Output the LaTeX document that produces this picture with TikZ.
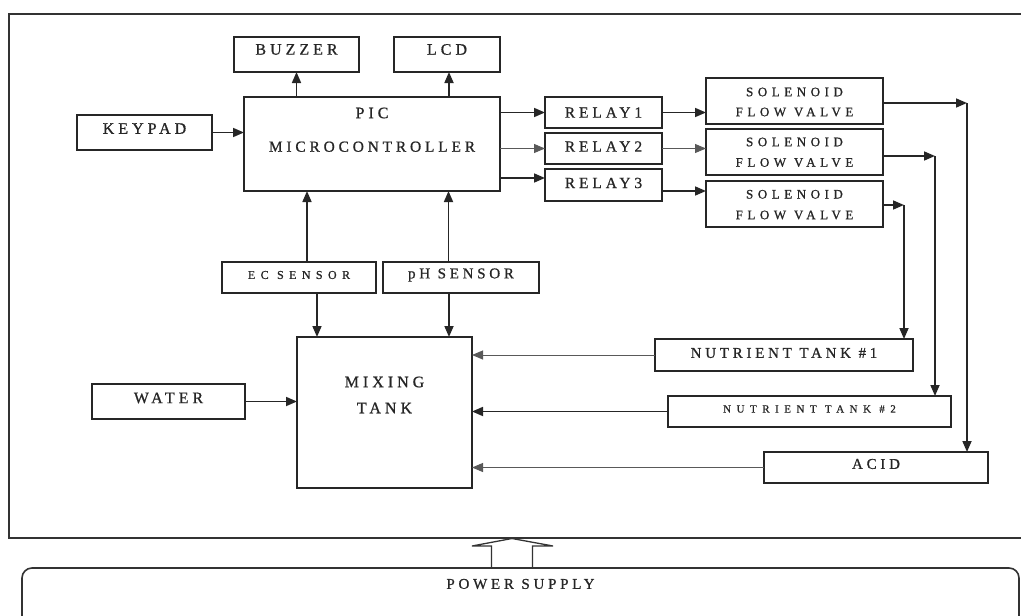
\documentclass[tikz,border=0pt]{standalone}
\usepackage{fontspec}
\usetikzlibrary{arrows.meta}
\setmainfont{Liberation Serif}
\newfontfamily\lsA[LetterSpace=25,FakeBold=0.8]{Liberation Serif}
\newfontfamily\lsB[LetterSpace=35,FakeBold=0.8]{Liberation Serif}
\newfontfamily\lsC[LetterSpace=45,FakeBold=0.8]{Liberation Serif}
\newfontfamily\lsD[LetterSpace=50,FakeBold=0.8]{Liberation Serif}
\newcommand{\fsz}[1]{\fontsize{#1}{#1}\selectfont}
\begin{document}
\begin{tikzpicture}[x=1pt,y=-1pt,
  box/.style={draw=black!85, line width=1.8pt, inner sep=0pt, outer sep=0pt, fill=white},
  txt/.style={inner sep=0pt, text=black!85},
  tA/.style={txt, font=\lsA\fsz{16}},
  tM/.style={txt, font=\lsA\fsz{15.4}},
  tR/.style={txt, font=\lsA\fsz{15.5}},
  tS/.style={txt, font=\lsB\fsz{13}},
  tE/.style={txt, font=\lsC\fsz{12}},
  tP/.style={txt, font=\lsA\fsz{15}},
  tN/.style={txt, font=\lsD\fsz{11}},
  arr/.style={draw=black!85, line width=1.7pt, -{Triangle[length=11pt,width=9pt]}},
  thin arr/.style={draw=black!65, line width=1.0pt, -{Triangle[length=11pt,width=9pt]}},
  ln/.style={draw=black!85, line width=1.5pt}
]
\useasboundingbox (0,0) rectangle (1021,616);
% outer frame
\draw[draw=black!80, line width=1.4pt] (1021,14) -- (9,14) -- (9,538) -- (1021,538);

% boxes
\node[box, minimum width=125, minimum height=35, label={[tA,yshift=5pt]center:BUZZER}] (buzzer) at (296.5,54.5) {};
\node[box, minimum width=106, minimum height=35, label={[tA,yshift=5pt]center:LCD}] (lcd) at (447,54.5) {};
\node[box, minimum width=256, minimum height=94,
  label={[tA,yshift=31pt]center:PIC},
  label={[tM,yshift=-2.7pt]center:MICROCONTROLLER}] (pic) at (372,144) {};
\node[box, minimum width=135, minimum height=35, label={[tA,yshift=4pt]center:KEYPAD}] (keypad) at (144.5,132.5) {};
\node[box, minimum width=117, minimum height=31, label={[tR]center:RELAY1}] (r1) at (603.5,112.5) {};
\node[box, minimum width=117, minimum height=31, label={[tR,yshift=2pt]center:RELAY2}] (r2) at (603.5,148.5) {};
\node[box, minimum width=117, minimum height=32, label={[tR,yshift=2pt]center:RELAY3}] (r3) at (603.5,185) {};
\node[box, minimum width=177, minimum height=46,
  label={[tS,yshift=9pt]center:SOLENOID},
  label={[tS,yshift=-11pt]center:FLOW VALVE}] (s1) at (794.5,101) {};
\node[box, minimum width=177, minimum height=46,
  label={[tS,yshift=10pt]center:SOLENOID},
  label={[tS,yshift=-10.5pt]center:FLOW VALVE}] (s2) at (794.5,152) {};
\node[box, minimum width=177, minimum height=46,
  label={[tS,yshift=9.7pt]center:SOLENOID},
  label={[tS,yshift=-11pt]center:FLOW VALVE}] (s3) at (794.5,204) {};
\node[box, minimum width=154, minimum height=31, label={[tE,yshift=2.5pt]center:EC SENSOR}] (ec) at (299,277.5) {};
\node[box, minimum width=156, minimum height=31, label={[tP,yshift=2.5pt]center:pH SENSOR}] (ph) at (461,277.5) {};
\node[box, minimum width=175, minimum height=151,
  label={[tA,yshift=30.5pt]center:MIXING},
  label={[tA,yshift=4.5pt]center:TANK}] (mix) at (384.5,412.5) {};
\node[box, minimum width=153, minimum height=35, label={[tA,yshift=3.5pt]center:WATER}] (water) at (168.5,401.5) {};
\node[box, minimum width=258, minimum height=32, label={[tP,yshift=2pt]center:NUTRIENT TANK \#1}] (nt1) at (784,355) {};
\node[box, minimum width=283, minimum height=31, label={[tN,yshift=2.5pt]center:NUTRIENT TANK \#2}] (nt2) at (809.5,411.5) {};
\node[box, minimum width=224, minimum height=31, label={[tP,yshift=3.5pt]center:ACID}] (acid) at (876,467.5) {};

% power supply
\node[draw=black!80, line width=1.6pt, rounded corners=10pt, inner sep=0pt, minimum width=997, minimum height=70,
  label={[tP,yshift=19pt]center:POWER SUPPLY}] (ps) at (520.5,603) {};
\coordinate (pwl) at (491.5,568);
\coordinate (pwr) at (532.5,568);
\draw[draw=black!80, line width=1.3pt] (pwl) -- (491.5,546) -- (472,546) -- (512,538.5) -- (553,546) -- (532.5,546) -- (pwr);

% connectors
\draw[arr] (keypad.east) -- (keypad.east -| pic.west);
\draw[arr] (pic.north -| buzzer.south) -- (buzzer.south);
\draw[arr] ([xshift=2pt]pic.north -| lcd.south) -- ([xshift=2pt]lcd.south);
\draw[arr] (pic.east |- r1.west) -- (r1.west);
\draw[thin arr] (pic.east |- r2.west) -- (r2.west);
\coordinate (r3in) at ([yshift=7pt]r3.west);
\draw[arr] (pic.east |- r3in) -- (r3in);
\draw[arr] (r1.east) -- (r1.east -| s1.west);
\draw[thin arr] (r2.east) -- (r2.east -| s2.west);
\coordinate (r3out) at ([yshift=-6pt]r3.east);
\draw[arr] (r3out) -- (r3out -| s3.west);

\coordinate (c1) at (967,103);
\coordinate (c2) at (935,156);
\coordinate (c3) at (904,205);
\draw[arr] (s1.east |- c1) -- (c1);
\draw[arr] (c1) -- (c1 |- acid.north);
\draw[arr] (s2.east |- c2) -- (c2);
\draw[arr] (c2) -- (c2 |- nt2.north);
\draw[arr] (s3.east |- c3) -- (c3);
\draw[arr] (c3) -- (c3 |- nt1.north);

\coordinate (ecu) at ([xshift=8pt]ec.north);
\coordinate (ecd) at ([xshift=18pt]ec.south);
\coordinate (phu) at ([xshift=-12.5pt]ph.north);
\coordinate (phd) at ([xshift=-12pt]ph.south);
\draw[arr] (ecu) -- (ecu |- pic.south);
\draw[arr] (ecd) -- (ecd |- mix.north);
\draw[arr] (phu) -- (phu |- pic.south);
\draw[arr] (phd) -- (phd |- mix.north);

\draw[arr] (water.east) -- (water.east -| mix.west);
\draw[thin arr] (nt1.west) -- (nt1.west -| mix.east);
\draw[arr] (nt2.west) -- (nt2.west -| mix.east);
\draw[thin arr] (acid.west) -- (acid.west -| mix.east);
\end{tikzpicture}
\end{document}
